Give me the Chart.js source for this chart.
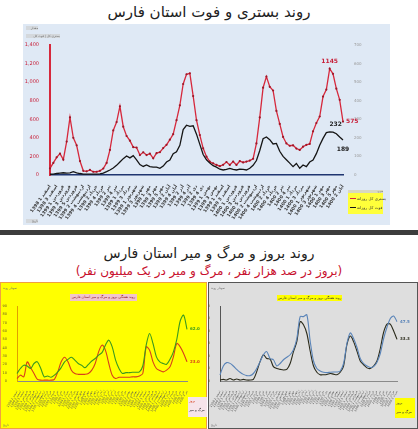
<!DOCTYPE html>
<html><head><meta charset="utf-8">
<script src="https://cdn.jsdelivr.net/npm/chart.js@4"></script>
<style>
body{margin:0;width:418px;height:429px;position:relative;background:#fff;overflow:hidden;font-family:'DejaVu Sans',sans-serif;}
.a{position:absolute;}
.t{position:absolute;left:0;width:418px;text-align:center;direction:rtl;white-space:nowrap;}
.tiny{position:absolute;font-size:3px;line-height:4px;color:#666;white-space:nowrap;direction:rtl;}
</style></head><body>
<div class="t" style="top:2px;font-size:15px;line-height:21px;color:#222;">روند بستری و فوت استان فارس</div>
<div class="a" style="left:23px;top:24px;width:367px;height:201px;background:#dfe9f5;"></div>
<canvas id="c1" class="a" width="367" height="201" style="left:23px;top:24px;"></canvas>
<div class="tiny" style="left:26px;top:26px;width:12px;height:4px;background:#d4d8dc;">مقدار</div>
<div class="tiny" style="left:26px;top:34px;width:34px;height:4px;background:#d4d8dc;">بستری کل | فوت کل</div>
<div class="tiny" style="left:26px;top:219px;width:12px;height:4px;background:#d4d8dc;">تاریخ</div>
<div class="a" style="left:348px;top:190px;width:35px;height:24px;background:#ffff3a;">
  <div class="tiny" style="left:0;top:0;width:35px;height:3px;background:#d8d8c0;font-size:2.5px;line-height:3px;">سری</div>
  <div class="a" style="left:2px;top:8px;width:6px;height:1px;background:#d6283c;"></div>
  <div class="tiny" style="left:9px;top:6px;font-size:4px;line-height:5px;color:#333;">بستری کل روزانه</div>
  <div class="a" style="left:2px;top:17px;width:6px;height:1px;background:#151515;"></div>
  <div class="tiny" style="left:9px;top:15px;font-size:4px;line-height:5px;color:#333;">فوت کل روزانه</div>
</div>
<div class="a" style="left:0;top:230px;width:418px;height:5px;background:#3c3c3c;"></div>
<div class="t" style="top:244px;font-size:14px;line-height:19px;color:#222;">روند بروز و مرگ و میر استان فارس</div>
<div class="t" style="top:263px;font-size:12px;line-height:17px;color:#c8102e;">(بروز در صد هزار نفر ، مرگ و میر در یک میلیون نفر)</div>

<div class="a" style="left:0;top:282px;width:205px;height:145px;background:#ffff00;border:1px solid #f0a040;"></div>
<div class="a" style="left:208px;top:282px;width:208px;height:145px;background:#dedede;border:1px solid #555;"></div>
<canvas id="c2" class="a" width="207" height="147" style="left:0;top:282px;"></canvas>
<canvas id="c3" class="a" width="210" height="147" style="left:208px;top:282px;"></canvas>
<div class="tiny" style="left:3px;top:286px;">نمودار روند</div>
<div class="tiny" style="left:3px;top:423px;">تاریخ</div>
<div class="tiny" style="left:211px;top:286px;">نمودار روند</div>
<div class="tiny" style="left:211px;top:423px;">تاریخ</div>
<div class="tiny" style="left:70px;top:294px;width:67px;height:7px;background:#f2c4cc;color:#8a1020;font-size:3.5px;line-height:7px;text-align:center;">روند هفتگی بروز و مرگ و میر استان فارس</div>
<div class="tiny" style="left:277px;top:295px;width:65px;height:6px;background:#ffff00;color:#333;font-size:3.5px;line-height:6px;text-align:center;">روند هفتگی بروز و مرگ و میر استان فارس</div>
<div class="a" style="left:188px;top:397px;width:19px;height:20px;background:#f6e4ea;">
  <div class="tiny" style="left:1px;top:2px;color:#d8401a;font-size:3.5px;">بروز</div>
  <div class="tiny" style="left:1px;top:11px;color:#333;font-size:3.5px;">مرگ و میر</div>
</div>
<div class="a" style="left:395px;top:398px;width:20px;height:20px;background:#ffff00;">
  <div class="tiny" style="left:1px;top:3px;color:#333;font-size:3.5px;">بروز</div>
  <div class="tiny" style="left:1px;top:12px;color:#333;font-size:3.5px;">مرگ و میر</div>
</div>
<script>
const weeks = [
"1398 اسفند 1","1398 اسفند 2","1398 اسفند 3","1398 اسفند 4",
"1399 فروردین 1","1399 فروردین 2","1399 فروردین 3","1399 فروردین 4","1399 فروردین 5",
"1399 اردیبهشت 1","1399 اردیبهشت 2","1399 اردیبهشت 3","1399 اردیبهشت 4",
"1399 خرداد 1","1399 خرداد 2","1399 خرداد 3","1399 خرداد 4",
"1399 تیر 1","1399 تیر 2","1399 تیر 3","1399 تیر 4","1399 تیر 5",
"1399 مرداد 1","1399 مرداد 2","1399 مرداد 3","1399 مرداد 4",
"1399 شهریور 1","1399 شهریور 2","1399 شهریور 3","1399 شهریور 4",
"1399 مهر 1","1399 مهر 2","1399 مهر 3","1399 مهر 4","1399 مهر 5",
"1399 آبان 1","1399 آبان 2","1399 آبان 3","1399 آبان 4",
"1399 آذر 1","1399 آذر 2","1399 آذر 3","1399 آذر 4",
"1399 دی 1","1399 دی 2","1399 دی 3","1399 دی 4","1399 دی 5",
"1399 بهمن 1","1399 بهمن 2","1399 بهمن 3","1399 بهمن 4",
"1399 اسفند 1","1399 اسفند 2","1399 اسفند 3","1399 اسفند 4",
"1400 فروردین 1","1400 فروردین 2","1400 فروردین 3","1400 فروردین 4","1400 فروردین 5",
"1400 اردیبهشت 1","1400 اردیبهشت 2","1400 اردیبهشت 3","1400 اردیبهشت 4",
"1400 خرداد 1","1400 خرداد 2","1400 خرداد 3","1400 خرداد 4",
"1400 تیر 1","1400 تیر 2","1400 تیر 3","1400 تیر 4","1400 تیر 5",
"1400 مرداد 1","1400 مرداد 2","1400 مرداد 3","1400 مرداد 4",
"1400 شهریور 1","1400 شهریور 2","1400 شهریور 3","1400 شهریور 4",
"1400 مهر 1","1400 مهر 2","1400 مهر 3","1400 مهر 4","1400 مهر 5",
"1400 آبان 1","1400 آبان 2"
];
const hospitalized = [
72,130,190,230,165,360,620,400,320,150,
45,40,55,35,35,45,70,130,270,480,
570,740,520,420,370,300,295,215,245,215,
230,180,235,245,290,325,380,440,590,750,
980,1085,1095,850,590,430,287,197,143,126,
108,95,110,140,108,145,108,150,135,145,
155,175,340,620,940,1060,950,910,690,550,
410,340,315,320,285,270,305,325,335,470,
560,630,845,920,1145,1090,930,810,575
];
const deaths = [
4,5,8,10,12,10,12,18,12,8,
5,5,5,5,5,6,10,18,27,38,
52,70,88,102,92,104,82,56,46,54,
45,42,42,36,48,70,80,115,125,160,
245,268,262,265,220,165,110,82,64,50,
42,31,27,30,36,30,27,32,30,27,
36,52,78,132,195,205,190,167,170,128,
100,82,64,45,62,36,54,45,70,80,
115,160,197,228,232,231,222,205,189
];
const rateWeeks = [
"1398 اسفند 1","1398 اسفند 2","1398 اسفند 3",
"1399 فروردین 1","1399 فروردین 2","1399 فروردین 3",
"1399 اردیبهشت 1","1399 اردیبهشت 2","1399 اردیبهشت 3",
"1399 خرداد 1","1399 خرداد 2","1399 خرداد 3",
"1399 تیر 1","1399 تیر 2","1399 تیر 3",
"1399 مرداد 1","1399 مرداد 2","1399 مرداد 3",
"1399 شهریور 1","1399 شهریور 2","1399 شهریور 3",
"1399 مهر 1","1399 مهر 2","1399 مهر 3",
"1399 آبان 1","1399 آبان 2","1399 آبان 3",
"1399 آذر 1","1399 آذر 2","1399 آذر 3",
"1399 دی 1","1399 دی 2","1399 دی 3",
"1399 بهمن 1","1399 بهمن 2","1399 بهمن 3",
"1399 اسفند 1","1399 اسفند 2","1399 اسفند 3",
"1400 فروردین 1","1400 فروردین 2","1400 فروردین 3",
"1400 اردیبهشت 1","1400 اردیبهشت 2","1400 اردیبهشت 3",
"1400 خرداد 1","1400 خرداد 2","1400 خرداد 3",
"1400 تیر 1","1400 تیر 2","1400 تیر 3",
"1400 مرداد 1","1400 مرداد 2","1400 مرداد 3"
];
const incidenceA = [
9,15,19,18,15,21,23,15,5,6,
4.5,7,11,16,23,26,28.5,25,21,19,
16,20,24,27,31,34,43,49,41,25,
15,9,10,10,10.5,10.5,11,18,43,57,
45,29,23,21,20,26,35,50,72,79,62
];
const mortalityA = [
3,7,5,23,16,9,2,1,1,1,
1,2,11,23,28.5,23,13,9,8,8,
8,9,13,21,35,43,37,21,7,3,
4.5,4.5,4.5,4.5,5,5,6,9,41,37,
23,15,12.5,11,13,17,29,45,41,33,23
];
const incidenceB = [
4.8,12,14.7,14.1,12,9.3,7,5.3,4.3,4.3,
6,10,15.5,21,23.5,18,17,12,14,17,
19,21,25,34,51.5,51.5,53,32,16,10,
8,7,6.7,7,7.2,7.2,8,14,30,38.5,
34,27,18,14,12,10.8,11.5,15,22,34,
43,50,52,47.5
];
const mortalityB = [
0.8,1.3,0.8,2,0.8,1.6,0.8,1.3,0.8,0.8,
1.3,7.5,15.5,21,18,17.5,11.5,10,9.3,8.8,
9.3,14,23.5,31.5,47.5,45,38,24,12,7,
5,5,5.2,6,5.5,5,7,12,29,36,
31.5,24,16,13,10.5,10,12,16,26,39,
45.5,45.5,40,33.3
];
const hospTicks = [0,200,400,600,800,1000,1200,1400];

Chart.defaults.font.family = "'DejaVu Sans', sans-serif";
Chart.defaults.animation = false;

const pointLabels = {
  id: 'pointLabels',
  afterDatasetsDraw(chart, args, opts) {
    const ctx = chart.ctx;
    (opts.items || []).forEach(it => {
      const el = chart.getDatasetMeta(it.ds).data[it.idx];
      if (!el) return;
      const v = chart.data.datasets[it.ds].data[it.idx];
      ctx.save();
      ctx.font = it.font;
      ctx.fillStyle = it.color;
      ctx.textAlign = it.align || 'center';
      ctx.textBaseline = 'middle';
      ctx.fillText(it.fmt ? it.fmt(v) : String(v), el.x + it.dx, el.y + it.dy);
      ctx.restore();
    });
  }
};

const last = a => a.length - 1;
// index of the highest value within the final wave (last n points)
const peakIdx = (a, n) => { const s = a.slice(a.length - n); return a.length - n + s.indexOf(Math.max(...s)); };

new Chart(document.getElementById('c1'), {
  type: 'line',
  data: {
    labels: weeks,
    datasets: [
      { data: deaths, yAxisID: 'y1', borderColor: '#151515', borderWidth: 1.3, pointRadius: 0, tension: 0, clip: 4 },
      { data: hospitalized, yAxisID: 'y', borderColor: '#d6283c', borderWidth: 1.3, pointRadius: 1.1,
        pointBackgroundColor: '#9c1828', pointBorderWidth: 0, tension: 0, clip: 4 }
    ]
  },
  options: {
    responsive: false,
    layout: { padding: { top: 21, right: 27, bottom: 0, left: 0 } },
    plugins: {
      legend: { display: false }, tooltip: { enabled: false },
      pointLabels: { items: [
        { ds: 1, idx: peakIdx(hospitalized, 12), dx: 0, dy: -7, font: 'bold 6px DejaVu Sans', color: '#c8203a' },
        { ds: 1, idx: last(hospitalized), dx: 3, dy: 0, align: 'left', font: 'bold 6px DejaVu Sans', color: '#c8203a' },
        { ds: 0, idx: peakIdx(deaths, 12), dx: 6, dy: -7, font: 'bold 6px DejaVu Sans', color: '#222' },
        { ds: 0, idx: last(deaths), dx: 0, dy: 10, font: 'bold 6px DejaVu Sans', color: '#222' }
      ] }
    },
    scales: {
      x: {
        grid: { display: false },
        border: { display: true, color: '#1f3570', width: 1.5 },
        ticks: { autoSkip: false, minRotation: 55, maxRotation: 55, padding: 1, color: '#3a3a3a',
          font: { size: 4.5, weight: 'bold' },
          callback: function (v, i) { return i % 2 === 0 ? this.getLabelForValue(v) : ''; } },
        afterFit: s => { s.height = 50; }
      },
      y: {
        min: 0, max: 1400,
        afterBuildTicks: s => { s.ticks = hospTicks.map(v => ({ value: v })); },
        grid: { display: false },
        border: { display: true, color: '#d6283c', width: 2 },
        ticks: { color: '#c8203a', font: { size: 5 }, padding: 3 },
        afterFit: s => { s.width = 27; }
      },
      y1: {
        position: 'right', min: 0, max: 700,
        ticks: { stepSize: 100, color: '#9a9a9a', font: { size: 4 }, padding: 3 },
        grid: { display: false }, border: { display: false },
        afterFit: s => { s.width = 20; }
      }
    }
  },
  plugins: [pointLabels]
});

function rateChart(id, labels, s1, s2, c1, c2, ymax, axisColor, rightPad, yWidth) {
  return new Chart(document.getElementById(id), {
    type: 'line',
    data: {
      labels: labels,
      datasets: [
        { data: s1, borderColor: c1, borderWidth: 1.1, pointRadius: 0, tension: 0.3, clip: 4 },
        { data: s2, borderColor: c2, borderWidth: 1.1, pointRadius: 0, tension: 0.3, clip: 4 }
      ]
    },
    options: {
      responsive: false,
      layout: { padding: { top: 24, right: rightPad, bottom: 0, left: 0 } },
      plugins: {
        legend: { display: false }, tooltip: { enabled: false },
        pointLabels: { items: [
          { ds: 0, idx: last(s1), dx: 3, dy: 0, align: 'left', font: 'bold 4px DejaVu Sans', color: c1, fmt: v => v.toFixed(1) },
          { ds: 1, idx: last(s2), dx: 3, dy: 0, align: 'left', font: 'bold 4px DejaVu Sans', color: c2, fmt: v => v.toFixed(1) }
        ] }
      },
      scales: {
        x: {
          grid: { display: false },
          border: { display: true, color: '#8a8a8a', width: 1 },
          ticks: { autoSkip: false, minRotation: 60, maxRotation: 60, padding: 1, color: '#555', font: { size: 3 } },
          afterFit: s => { s.height = 48; }
        },
        y: {
          min: 0, max: ymax,
          ticks: { stepSize: 10, color: '#6a5a20', font: { size: 3.5 }, padding: 2 },
          grid: { display: false },
          border: { display: true, color: axisColor, width: 1 },
          afterFit: s => { s.width = yWidth; }
        }
      }
    },
    plugins: [pointLabels]
  });
}

rateChart('c2', rateWeeks.slice(0, incidenceA.length), incidenceA, mortalityA, '#3c9a1e', '#d8401a', 90, '#e0a000', 20, 17);
rateChart('c3', rateWeeks, incidenceB, mortalityB, '#5a84b8', '#2a2a1a', 60, '#555', 21, 12);
</script>
</body></html>
